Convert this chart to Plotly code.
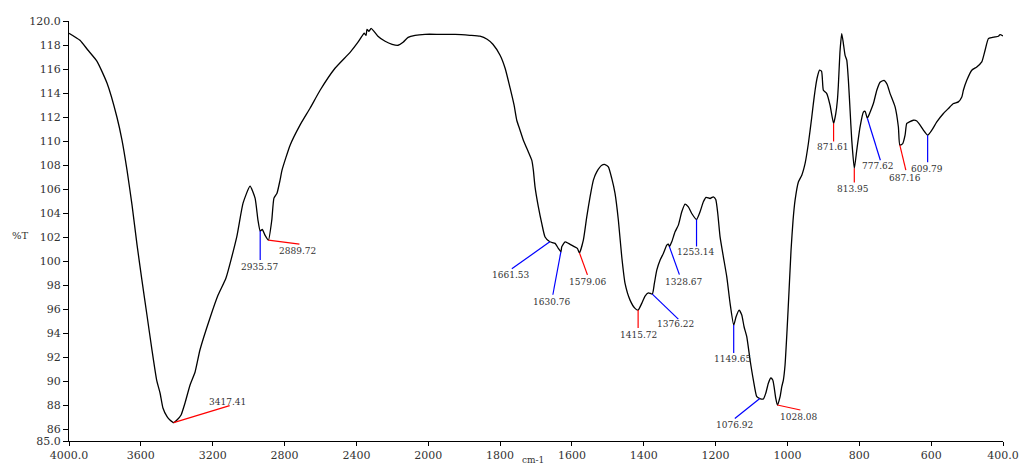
import numpy as np
import plotly.graph_objects as go

# FTIR spectrum: wavenumber (cm-1) and transmittance (%T)
wavenumber = [
    4000, 3939, 3894, 3844, 3788, 3733, 3705, 3677, 3649, 3621, 3594, 3566, 3538, 3512,
    3493, 3477, 3454, 3438, 3417.41, 3399, 3376, 3354, 3326, 3298, 3271, 3215, 3170, 3126,
    3066, 3031, 2992, 2964, 2948, 2935.57, 2924, 2909, 2889.72, 2871, 2859, 2842, 2825, 2814,
    2769, 2714, 2658, 2602, 2519, 2435, 2391, 2369, 2357, 2346, 2341, 2330, 2318, 2302,
    2280, 2240, 2201, 2168, 2140, 2112, 2073, 2018, 1967, 1925, 1884, 1856, 1836, 1820,
    1800, 1786, 1772, 1761, 1753.6, 1744.4, 1735.2, 1721.3, 1711.8, 1707.4, 1702.7, 1693.4,
    1684.0, 1674.8, 1661.53, 1646.9, 1637.8, 1630.76, 1628.3, 1619.1, 1609.9, 1596.0, 1584.9,
    1579.06, 1568.2, 1558.7, 1549.5, 1540.3, 1530.9, 1516.9, 1507.8, 1498.6, 1489.1, 1480.0,
    1470.7, 1461.3, 1452.1, 1438.2, 1424.3, 1415.72, 1405.6, 1396.4, 1387.2, 1376.22, 1370.5,
    1363.8, 1354.7, 1345.5, 1336.0, 1331.5, 1328.67, 1322.1, 1312.9, 1303.7, 1294.2, 1285.0,
    1275.9, 1266.4, 1253.14, 1243.3, 1234.1, 1226.6, 1215.5, 1206.3, 1199.6, 1194.0, 1187.6,
    1178.4, 1168.9, 1159.7, 1149.65, 1143.1, 1134.7, 1127.2, 1120.8, 1113.3, 1104.1, 1094.9,
    1085.4, 1076.92, 1067.1, 1060.4, 1053.2, 1046.5, 1040.9, 1037.3, 1032.6, 1028.08, 1020.6,
    1015.8, 1011.4, 1006.7, 1001.1, 995.5, 990.0, 984.4, 978.8, 969.6, 960.1, 950.9, 941.8,
    932.3, 927.9, 923.1, 917.6, 910.6, 905.0, 900.0, 890.6, 881.4, 871.61, 865.5, 861.0,
    858.3, 853.5, 848.9, 844.3, 839.6, 834.9, 830.4, 825.7, 821.0, 813.95, 807.1, 797.9,
    788.7, 784.0, 777.62, 770.0, 760.8, 751.3, 742.2, 731.1, 722.7, 714.3, 700.4, 691.2,
    687.16, 679.0, 672.6, 667.9, 660.6, 649.5, 640.0, 630.8, 621.6, 609.79, 598.2, 584.3,
    565.9, 552.0, 538.1, 524.2, 514.7, 510.3, 500.8, 486.9, 473.0, 459.1, 449.9, 440.7,
    431.2, 422.0, 412.8, 408.1, 400,
]
transmittance = [
    118.98, 118.39, 117.56, 116.64, 114.81, 111.98, 110.07, 107.57, 104.65, 101.32, 98.41, 95.50, 92.58, 90.08,
    89.0, 87.75, 87.03, 86.75, 86.53, 86.75, 87.17, 88.17, 89.67, 90.75, 92.58, 95.25, 97.16, 98.58,
    102.01, 104.82, 106.24, 105.24, 103.41, 102.49, 102.63, 102.16, 101.74, 103.41, 105.24, 105.65, 106.74, 107.57,
    109.65, 111.32, 112.73, 114.23, 116.06, 117.39, 118.23, 118.73, 118.98, 118.81, 119.31, 119.14, 119.39, 119.14,
    118.73, 118.31, 118.06, 117.98, 118.23, 118.64, 118.81, 118.89, 118.89, 118.89, 118.81, 118.73, 118.48, 118.06,
    117.14, 116.06, 114.40, 112.98, 111.73, 110.9, 110.07, 109.09, 108.4, 107.57, 106.18, 104.51,
    103.13, 102.0, 101.6, 101.47, 101.05, 100.77, 101.18, 101.6, 101.47, 101.24, 101.05,
    100.68, 101.74, 103.68, 105.35, 106.74, 107.43, 107.98, 108.04, 107.84, 106.88, 105.63,
    103.4, 100.35, 98.13, 96.74, 96.05, 95.91, 96.47, 97.08, 97.35, 97.24, 98.13,
    99.24, 100.07, 100.63, 101.32, 101.41, 101.2, 101.6, 102.43, 102.99, 104.1, 104.74,
    104.51, 103.96, 103.46, 104.1, 104.93, 105.3, 105.21, 105.35, 105.13, 103.96, 102.01,
    100.35, 98.68, 96.47, 94.66, 95.35, 95.91, 95.5, 94.52, 93.69, 91.75, 90.08,
    88.69, 88.54, 88.5, 88.98, 89.81, 90.25, 90.08, 89.53, 88.56, 88.0, 88.69,
    89.53, 90.08, 91.33, 94.25, 97.58, 100.91, 103.41, 105.07, 106.59, 107.15, 108.13, 109.79,
    112.0, 113.12, 114.23, 115.23, 115.9, 115.81, 114.23, 113.95, 112.98, 111.46, 112.29, 113.4,
    114.65, 117.56, 118.95, 118.12, 117.14, 116.73, 115.06, 112.56, 110.07, 107.71, 109.23, 111.17,
    112.4, 112.48, 111.9, 112.4, 113.12, 114.23, 114.9, 115.06, 114.73, 113.95, 112.84, 111.17,
    109.65, 109.79, 110.48, 111.46, 111.59, 111.73, 111.67, 111.32, 110.9, 110.48, 110.9, 111.59,
    112.29, 112.71, 113.12, 113.26, 113.67, 114.23, 115.06, 115.9, 116.17, 116.59, 117.56, 118.53,
    118.62, 118.67, 118.73, 118.87, 118.75,
]

# Labelled peak positions (cm-1) and the colour of each leader line
peak_wavenumbers = [3417.41, 2935.57, 2889.72, 1661.53, 1630.76, 1579.06, 1415.72, 1376.22,
                    1328.67, 1253.14, 1149.65, 1076.92, 1028.08, 871.61, 813.95, 777.62,
                    687.16, 609.79]
peak_colors = ["red", "blue", "red", "blue", "blue", "red", "red", "blue",
               "blue", "blue", "blue", "blue", "red", "red", "red", "blue",
               "red", "blue"]

# Leader-line end and label offsets in screen pixels (dx right, dy down)
line_offsets = [(56, -17), (0, 29), (31, 4), (-38, 27), (-8, 43), (8, 22), (0, 18), (26, 25),
                (10, 28), (0, 27), (0, 28), (-25, 20), (23, 5), (0, 18), (0, 14), (13, 42),
                (6, 25), (0, 27)]
text_offsets = [(54, -21), (-1, 36), (29, 11), (-39, 33), (-9, 50), (8, 29), (0, 25), (23, 30),
                (14, 35), (-1, 33), (-1, 34), (-25, 26), (21, 12), (-1, 24), (-1, 21), (11, 48),
                (5, 33), (-1, 34)]

x_tick_values = [4000, 3600, 3200, 2800, 2400, 2000, 1800, 1600, 1400, 1200, 1000, 800, 600, 400]
x_tick_labels = ["4000.0", "3600", "3200", "2800", "2400", "2000", "1800", "1600", "1400",
                 "1200", "1000", "800", "600", "400.0"]
y_tick_values = [85, 86, 88, 90, 92, 94, 96, 98, 100, 102, 104, 106, 108, 110, 112, 114, 116, 118, 120]
y_tick_labels = ["85.0"] + [str(v) for v in y_tick_values[1:-1]] + ["120.0"]


def axis_pos(w):
    """Split wavenumber scale: above 2000 cm-1 the axis is compressed by 2x."""
    w = np.asarray(w, dtype=float)
    return np.where(w <= 2000, w, 2000 + (w - 2000) / 2.0)


wn = np.array(wavenumber)
tr = np.array(transmittance)
order = np.argsort(wn)
peak_t = np.interp(peak_wavenumbers, wn[order], tr[order])

SERIF = "DejaVu Serif"
fig = go.Figure()
fig.add_trace(go.Scatter(x=axis_pos(wn), y=tr, mode="lines",
                         line=dict(color="black", width=1.3, shape="spline", smoothing=0.5),
                         hoverinfo="skip"))

shapes = []
annotations = []
for w, t, c, (lx, ly), (tx, ty) in zip(peak_wavenumbers, peak_t, peak_colors,
                                       line_offsets, text_offsets):
    xp = float(axis_pos(w))
    shapes.append(dict(type="line", xref="x", yref="y", xsizemode="pixel", ysizemode="pixel",
                       xanchor=xp, yanchor=float(t), x0=0, y0=0, x1=lx, y1=-ly,
                       line=dict(color=c, width=1.2)))
    annotations.append(dict(x=xp, y=float(t), xref="x", yref="y", text=f"{w:.2f}",
                            showarrow=False, xshift=tx, yshift=-ty,
                            font=dict(family=SERIF, size=9, color="#333333")))

annotations.append(dict(x=0, y=0.5, xref="paper", yref="paper", text="%T", showarrow=False,
                        xanchor="center", yanchor="middle", xshift=-49, yshift=-4,
                        font=dict(family=SERIF, size=10, color="#333333")))
annotations.append(dict(x=0.5, y=0, xref="paper", yref="paper", text="cm-1", showarrow=False,
                        xanchor="center", yanchor="top", xshift=-3, yshift=-12,
                        font=dict(family=SERIF, size=9, color="#333333")))

fig.update_layout(
    width=1019, height=466,
    margin=dict(l=69, r=16, t=21, b=25, autoexpand=False),
    paper_bgcolor="white", plot_bgcolor="white",
    showlegend=False,
    shapes=shapes,
    annotations=annotations,
    xaxis=dict(range=[3000, 400], tickmode="array", automargin=False,
               tickvals=axis_pos(x_tick_values).tolist(), ticktext=x_tick_labels,
               showgrid=False, zeroline=False, showline=True, linecolor="black", linewidth=1,
               ticks="outside", ticklen=4, tickcolor="black",
               tickfont=dict(family=SERIF, size=11, color="#333333")),
    yaxis=dict(range=[85, 120], tickmode="array", tickvals=y_tick_values, ticktext=y_tick_labels,
               automargin=False,
               showgrid=False, zeroline=False, showline=True, linecolor="black", linewidth=1,
               ticks="outside", ticklen=5, tickcolor="black",
               tickfont=dict(family=SERIF, size=11, color="#333333")),
)

fig.write_html("out.html")
